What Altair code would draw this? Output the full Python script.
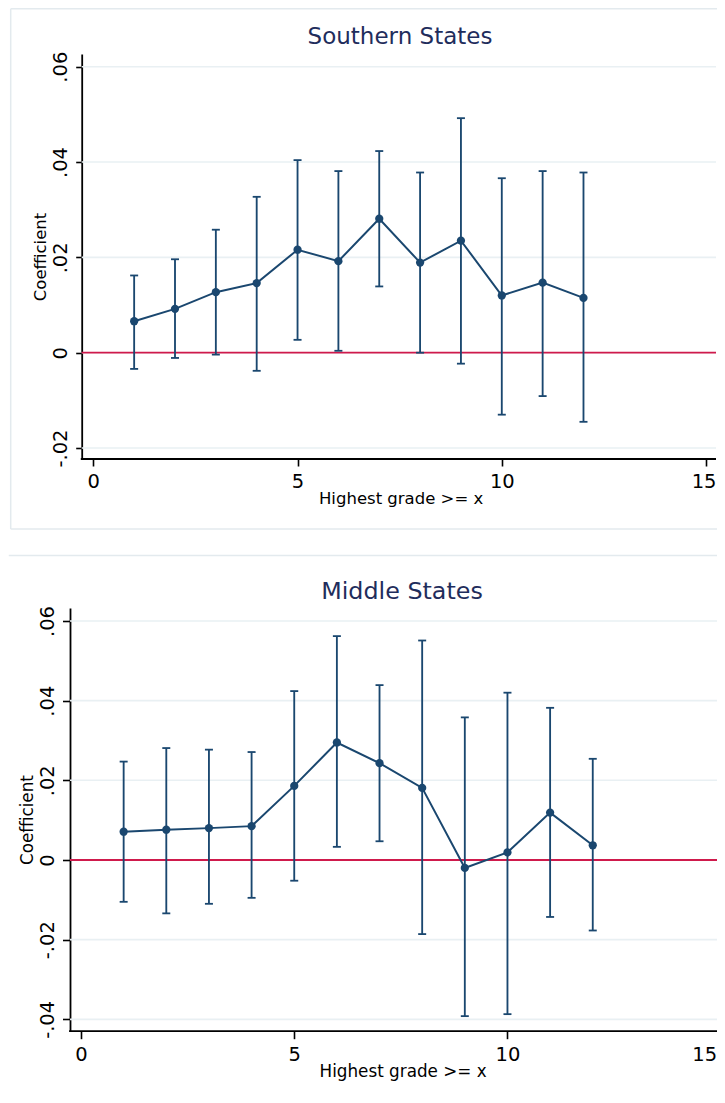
import altair as alt
import pandas as pd

# ---------------- data ----------------
grades = [1, 2, 3, 4, 5, 6, 7, 8, 9, 10, 11, 12]

south_coef = [0.0066, 0.0092, 0.0127, 0.0146, 0.0216, 0.0192, 0.0281, 0.0189, 0.0235, 0.0120, 0.0147, 0.0115]
south_hi = [0.0162, 0.0196, 0.0258, 0.0327, 0.0404, 0.0381, 0.0423, 0.0378, 0.0492, 0.0366, 0.0381, 0.0378]
south_lo = [-0.0034, -0.0011, -0.0004, -0.0038, 0.0027, 0.0004, 0.0139, 0.0000, -0.0023, -0.0130, -0.0091, -0.0145]

middle_coef = [0.0071, 0.0076, 0.0080, 0.0085, 0.0186, 0.0295, 0.0243, 0.0181, -0.0020, 0.0019, 0.0119, 0.0037]
middle_hi = [0.0247, 0.0281, 0.0277, 0.0271, 0.0424, 0.0562, 0.0439, 0.0551, 0.0358, 0.0420, 0.0382, 0.0254]
middle_lo = [-0.0105, -0.0134, -0.0110, -0.0095, -0.0052, 0.0033, 0.0047, -0.0186, -0.0392, -0.0387, -0.0143, -0.0177]

x_ticks = [0, 5, 10, 15]
south_yticks = [-0.02, 0, 0.02, 0.04, 0.06]
middle_yticks = [-0.04, -0.02, 0, 0.02, 0.04, 0.06]
zero_line = [0]

titles = ["Southern States", "Middle States"]
x_title = "Highest grade >= x"
y_title = "Coefficient"

# ---------------- style ----------------
NAVY = "#1a476f"
RED = "#cf1a4c"
GRID = "#e9f0f3"
FRAME = "#e3eaee"
TITLE_COLOR = "#1f2d5c"
FONT = "DejaVu Sans"

LABEL_EXPR = ("datum.value == 0 ? '0' : (datum.value < 0 ? '-' : '') + '.' + "
              "format(abs(datum.value) * 100, '02d')")


def panel(title, coef, lo, hi, yticks, p):
    W, H = p["W"], p["H"]
    df = pd.DataFrame({"x": grades, "coef": coef, "lo": lo, "hi": hi})
    one = pd.DataFrame({"k": [0]})
    xs = alt.Scale(domain=p["xdom"], nice=False, zero=False)
    ys = alt.Scale(domain=p["ydom"], nice=False, zero=False)

    y_axis = alt.Axis(
        values=yticks, labelExpr=LABEL_EXPR, grid=False,
        labelAngle=270, labelAlign="center", labelBaseline="alphabetic",
        labelPadding=p["ylp"], labelFont=FONT, labelFontSize=p["lfs"], labelColor="black",
        tickSize=p["yts"], tickColor="black", tickWidth=1.6,
        domainColor="black", domainWidth=1.8, offset=-p["shift"],
        title=y_title, titleAngle=270, titleX=p["ytx"], titleY=H / 2,
        titleAlign="center", titleBaseline="alphabetic", titleFont=FONT,
        titleFontSize=p["afs"], titleFontWeight="normal", titleColor="black",
    )
    x_axis = alt.Axis(
        values=x_ticks, format="d", grid=False, domain=False, labelFlush=False,
        labelOffset={"condition": {"test": "datum.value == 15", "value": p["last_dx"]},
                     "value": 0},
        labelBaseline="alphabetic", labelPadding=p["xlp"], labelFont=FONT,
        labelFontSize=p["lfs"], labelColor="black",
        tickSize=p["xts"], tickColor="black", tickWidth=1.6,
        title=x_title, titleX=p["xtx"], titleY=p["xty"], titleAlign="center",
        titleBaseline="alphabetic", titleFont=FONT, titleFontSize=p["afs"],
        titleFontWeight="normal", titleColor="black",
    )

    def X(field):
        return alt.X(field, type="quantitative", scale=xs, axis=x_axis)

    def Y(field):
        return alt.Y(field, type="quantitative", scale=ys, axis=y_axis)

    frame_layers = [
        alt.Chart(one).mark_rule(color=FRAME, strokeWidth=1.5).encode(
            y=alt.value(p["ftop"]), x=alt.value(p["fleft"]), x2=alt.value(p["fright"])
        )
    ]
    if p["full_frame"]:
        frame_layers.append(
            alt.Chart(one).mark_rule(color=FRAME, strokeWidth=1.5).encode(
                x=alt.value(p["fleft"]), y=alt.value(p["ftop"]), y2=alt.value(p["fbottom"])
            )
        )
        frame_layers.append(
            alt.Chart(one).mark_rule(color=FRAME, strokeWidth=1.5).encode(
                y=alt.value(p["fbottom"]), x=alt.value(p["fleft"]), x2=alt.value(p["fright"])
            )
        )

    title_mark = alt.Chart(pd.DataFrame({"t": [title]})).mark_text(
        font=FONT, fontSize=p["tfs"], color=TITLE_COLOR, align="center",
        baseline="alphabetic"
    ).encode(text="t:N", x=alt.value(p["tx"]), y=alt.value(-p["toff"]))

    grid = alt.Chart(pd.DataFrame({"v": yticks})).mark_rule(
        color=GRID, strokeWidth=1.6
    ).encode(y=Y("v"), x=alt.value(p["shift"]), x2=alt.value(W))
    zero = alt.Chart(pd.DataFrame({"v": zero_line})).mark_rule(
        color=RED, strokeWidth=1.8
    ).encode(y=Y("v"), x=alt.value(p["shift"]), x2=alt.value(W))
    xline = alt.Chart(one).mark_rule(color="black", strokeWidth=1.8).encode(
        y=alt.value(H), x=alt.value(p["shift"] - 0.9), x2=alt.value(W)
    )

    bars = alt.Chart(df).mark_rule(color=NAVY, strokeWidth=1.85).encode(
        x=X("x"), y=Y("lo"), y2="hi:Q"
    )
    cap_hi = alt.Chart(df).mark_tick(
        color=NAVY, orient="horizontal", size=8, thickness=1.8, opacity=1
    ).encode(x=X("x"), y=Y("hi"))
    cap_lo = alt.Chart(df).mark_tick(
        color=NAVY, orient="horizontal", size=8, thickness=1.8, opacity=1
    ).encode(x=X("x"), y=Y("lo"))
    line = alt.Chart(df).mark_line(color=NAVY, strokeWidth=2).encode(
        x=X("x"), y=Y("coef")
    )
    pts = alt.Chart(df).mark_circle(color=NAVY, size=68, opacity=1).encode(
        x=X("x"), y=Y("coef")
    )

    return alt.layer(
        *frame_layers, title_mark, grid, zero, xline, bars, cap_hi, cap_lo, line, pts
    ).properties(width=W, height=H)


# panel 1: plot area spans page x 70..716, y 54..459 (y axis drawn at x 81.7)
p1 = dict(
    shift=11.7, W=646, H=405,
    xdom=[-0.5704, 15.244], ydom=[-0.0223, 0.06266],
    yts=6, ylp=9.0, ytx=-35.7,
    xts=7, xlp=21.3, xtx=330.6, xty=44, last_dx=-2.5,
    lfs=19.5, afs=16.5, tfs=23, toff=9.7, tx=330,
    ftop=-45.25, fleft=-59.3, fright=700, fbottom=475, full_frame=True,
)
# panel 2: plot area spans page x 70..725 (cropped at the page edge), y 608.5..1031.7
p2 = dict(
    shift=0, W=655, H=423.2,
    xdom=[-0.258, 15.101], ydom=[-0.04298, 0.06326],
    yts=7.5, ylp=9.2, ytx=-37.6,
    xts=7.5, xlp=21.5, xtx=332.6, xty=45.3, last_dx=-16.5,
    lfs=19.5, afs=16.8, tfs=23.8, toff=9.2, tx=332,
    ftop=-52.5, fleft=-61.25, fright=700, fbottom=600, full_frame=False,
)

top = panel(titles[0], south_coef, south_lo, south_hi, south_yticks, p1)
bottom = panel(titles[1], middle_coef, middle_lo, middle_hi, middle_yticks, p2)

# content reaches chart x = 62 + 700 + 0.75; negative right padding crops it so the
# page (8px margins on both sides) does not overflow the 725px window.
chart = alt.vconcat(top, bottom, spacing=24).properties(
    padding={"left": 0, "top": 0, "right": -54.5, "bottom": 0},
    background="white",
).configure_view(strokeWidth=0)

chart.save("out.html", embed_options={"renderer": "svg", "actions": False})
